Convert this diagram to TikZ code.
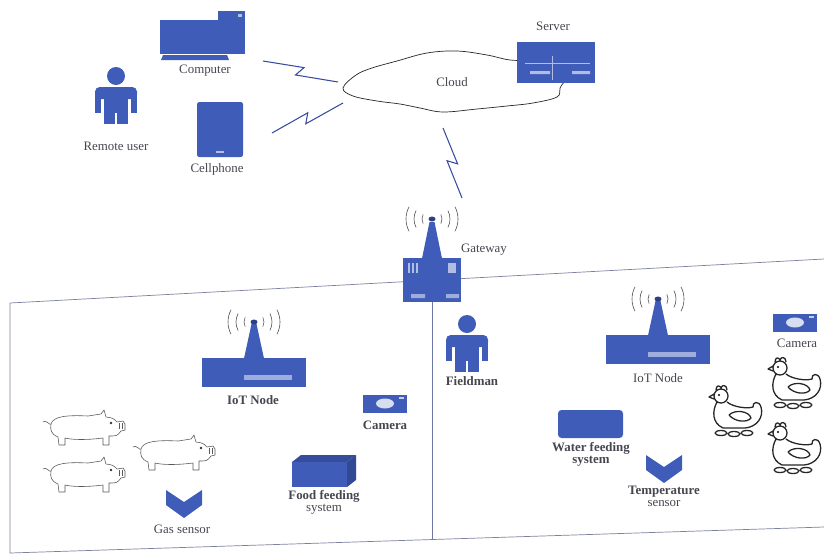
\documentclass[tikz,border=0pt]{standalone}
\usepackage{fontspec}
\setmainfont{Liberation Serif}
\usetikzlibrary{calc}

\definecolor{iotblue}{RGB}{62,92,184}
\definecolor{floorline}{RGB}{125,128,160}
\definecolor{labelgray}{RGB}{70,70,80}
\definecolor{boltblue}{RGB}{55,75,160}

\tikzset{
  lbl/.style={font=\fontsize{11}{12}\selectfont, text=labelgray, inner sep=1pt, align=center},
  lblb/.style={lbl, font=\fontsize{11}{12}\selectfont\bfseries},
  floor/.style={draw=floorline, line width=0.6pt},
  waves/.style={draw=gray!60!black, line width=0.5pt},
  bolt/.style={draw=boltblue, line width=0.9pt, line join=miter,
    to path={-- ($(\tikztostart)!0.53!(\tikztotarget)!4pt!90:(\tikztotarget)$)
             -- ($(\tikztostart)!0.45!(\tikztotarget)!4pt!-90:(\tikztotarget)$)
             -- (\tikztotarget)}},
  % standing person, origin at top of head
  person/.pic={
    \fill[iotblue] (0,9) circle (9);
    \fill[iotblue,rounded corners=4] (-21,20) rectangle (21,32);
    \fill[iotblue] (-21,28) rectangle (-15,46);
    \fill[iotblue] (15,28) rectangle (21,46);
    \fill[iotblue] (-12,28) rectangle (12,46);
    \fill[iotblue] (-12,45) rectangle (-1,57);
    \fill[iotblue] (1,45) rectangle (12,57);
  },
  % node box with antenna, origin at top middle of the box
  iotnode/.pic={
    \fill[iotblue] (-52,0) rectangle (52,29);
    \fill[iotblue] (-10,0.5) -- (-2.5,-34) -- (2.5,-34) -- (10,0.5) -- cycle;
    \fill[iotblue!70!black] (0,-36) ellipse (3.5 and 2.5);
    \fill[white,opacity=0.5] (-10,17) rectangle (38,22);
    \foreach \r in {10,18,26} {
      \draw[waves] (0,-36) ++(-28:\r) arc[start angle=-28, end angle=28, radius=\r];
      \draw[waves] (0,-36) ++(152:\r) arc[start angle=152, end angle=208, radius=\r];
    }
  },
  camera/.pic={
    \fill[iotblue] (-22,-9) rectangle (22,9);
    \fill[white!80!iotblue] (0,0) ellipse (9 and 5);
    \fill[white,opacity=0.7] (14,-7) rectangle (19,-5);
  },
  chevron/.pic={
    \fill[iotblue] (-18,0) -- (0,12) -- (18,0) -- (18,15) -- (0,28) -- (-18,15) -- cycle;
  },
  pig/.pic={
    \draw[gray!70!black, line width=0.5pt, line join=round]
      (0,12) .. controls (3,9) and (7,16) .. (8,14)
      .. controls (10,6) and (25,5) .. (45,6) -- (58,4) -- (61,0) -- (63,7)
      .. controls (70,8) .. (74,12) -- (80,11) -- (82,14) -- (82,20) -- (78,21)
      .. controls (74,26) .. (66,26) -- (66,35) -- (60,35) -- (60,28)
      .. controls (45,30) and (30,30) .. (22,28) -- (22,35) -- (16,35) -- (15,27)
      .. controls (8,24) and (7,20) .. (8,14);
    \draw[gray!70!black, line width=0.5pt] (76,13) -- (76,19) (79,13) -- (79,19);
    \fill[gray!40!black] (68,13) circle (1.3);
  },
  hen/.pic={
    \draw[black!85, line width=1.1pt, line join=round]
      (14,11) circle (7)
      (9,5) .. controls (9,0) and (13,0) .. (14,3) .. controls (15,-1) and (20,0) .. (20,5)
      (7,9) -- (2,12) -- (7,14)
      (10,17) .. controls (5,26) and (5,38) .. (16,43) -- (38,43)
      .. controls (50,42) and (57,32) .. (54,22) .. controls (52,15) and (45,17) .. (46,22)
      .. controls (40,24) and (26,22) .. (20,17)
      (22,30) .. controls (28,24) and (42,26) .. (44,33) .. controls (40,38) and (28,37) .. (22,30)
      (14,48) ellipse (6 and 2.5) (27,49) ellipse (6 and 2.5) (40,48) ellipse (6 and 2.5);
    \fill[black] (12,10) circle (1.2);
  }
}

\begin{document}
\begin{tikzpicture}[x=0.03cm, y=-0.03cm]
  \useasboundingbox (0,0) rectangle (824,554);

  % farm floor
  \coordinate (fl-tl) at (10,303);
  \coordinate (fl-tr) at (824,259);
  \coordinate (fl-bl) at (10,553);
  \coordinate (fl-br) at (824,527);
  \coordinate (div-end) at (432,540);
  \draw[floor] (fl-tl) -- (fl-tr);
  \draw[floor] (fl-tl) -- (fl-bl) -- (fl-br);

  % remote side
  \pic at (116,67) {person};
  \node[lbl] (user-lbl) at (116,146) {Remote user};
  % computer
  \fill[iotblue] (160,20) rectangle (220,54);
  \fill[iotblue] (218,11) rectangle (245,54);
  \fill[white,opacity=0.6] (238,14) rectangle (242,17);
  \fill[iotblue] (163,55) -- (227,55) -- (229,60) -- (161,60) -- cycle;
  \node[lbl] (pc-lbl) at (205,71) {Computer};
  % cellphone
  \fill[iotblue,rounded corners=2pt] (197,102) rectangle (243,157);
  \fill[white,opacity=0.6] (216,151) rectangle (224,153);
  \node[lbl] (phone-lbl) at (217,169) {Cellphone};

  % cloud and server
  \draw[black!85, line width=0.6pt, fill=white] plot[smooth cycle, tension=0.6] coordinates {
    (343,88) (356,75) (372,68) (397,61) (427,53) (457,51) (487,55) (510,60) (540,62)
    (565,75) (560,88) (557,97) (533,103) (507,106) (477,109) (443,112) (420,108)
    (400,104) (377,101) (353,96)};
  \node[lbl] (cloud-lbl) at (452,82) {Cloud};
  \node[fill=iotblue, minimum width=2.34cm, minimum height=1.23cm, inner sep=0] (server) at (556,62.5) {};
  \draw[white,opacity=0.6,line width=0.4pt] (525,63) -- (590,63) (552,56) -- (552,80);
  \fill[white,opacity=0.6] (530,71) rectangle (550,74) (572,71) rectangle (590,74);
  \node[lbl] (server-lbl) at (553,26) {Server};

  % wireless links
  \coordinate (b1s) at (263,61);
  \coordinate (b1e) at (338,82);
  \coordinate (b2s) at (272,133);
  \coordinate (b2e) at (343,103);
  \coordinate (b3s) at (443,128);
  \coordinate (b3e) at (462,198);
  \draw[bolt] (b1s) to (b1e);
  \draw[bolt] (b2s) to (b2e);
  \draw[bolt] (b3s) to (b3e);

  % gateway
  \node[fill=iotblue, minimum width=1.74cm, minimum height=1.32cm, inner sep=0] (gw) at (432,280) {};
  \fill[iotblue] (422,258.5) -- (429.5,222) -- (434.5,222) -- (442,258.5) -- cycle;
  \fill[iotblue!70!black] (432,219) ellipse (3.5 and 2.5);
  \foreach \r in {10,18,26} {
    \draw[waves] (432,219) ++(-28:\r) arc[start angle=-28, end angle=28, radius=\r];
    \draw[waves] (432,219) ++(152:\r) arc[start angle=152, end angle=208, radius=\r];
  }
  \foreach \x in {408,412,416} {\fill[white,opacity=0.6] (\x,263) rectangle (\x+2,273);}
  \fill[white,opacity=0.6] (448,263) rectangle (456,273);
  \fill[white,opacity=0.5] (411,294) rectangle (425,298) (446,294) rectangle (459,298);
  \node[lbl] (gw-lbl) at (484,250) {Gateway};
  \draw[floor, draw=floorline!80!iotblue] (gw.south) -- (div-end);

  % pig house
  \pic at (254,358) {iotnode};
  \node[lblb] (node1-lbl) at (253,400) {IoT Node};
  \pic at (385,403.5) {camera};
  \node[lblb] (cam1-lbl) at (385,425) {Camera};
  \fill[iotblue!85!black] (292,462) -- (301,455) -- (356,455) -- (347,462) -- cycle;
  \fill[iotblue!80!black] (347,462) -- (356,455) -- (356,480) -- (347,487) -- cycle;
  \fill[iotblue] (292,462) rectangle (347,487);
  \node[lblb] (food-lbl) at (324,502) {Food feeding\\[-2pt]{\mdseries system}};
  \pic at (43,410) {pig};
  \pic at (133,435) {pig};
  \pic at (43,457) {pig};
  \pic at (184,490) {chevron};
  \node[lbl] (gas-lbl) at (182,529) {Gas sensor};

  % poultry house
  \pic at (467,315) {person};
  \node[lblb] (field-lbl) at (472,381) {Fieldman};
  \pic at (658,335) {iotnode};
  \node[lbl] (node2-lbl) at (658,378) {IoT Node};
  \pic at (795,322.5) {camera};
  \node[lbl] (cam2-lbl) at (797,343) {Camera};
  \fill[iotblue,rounded corners=3pt] (558,410) rectangle (623,438);
  \node[lblb] (water-lbl) at (591,454) {Water feeding\\[-2pt]system};
  \pic at (664,455) {chevron};
  \node[lblb] (temp-lbl) at (664,496) {Temperature\\[-2pt]{\mdseries sensor}};
  \pic at (707,385) {hen};
  \pic at (766,357) {hen};
  \pic at (766,422) {hen};
\end{tikzpicture}
\end{document}
